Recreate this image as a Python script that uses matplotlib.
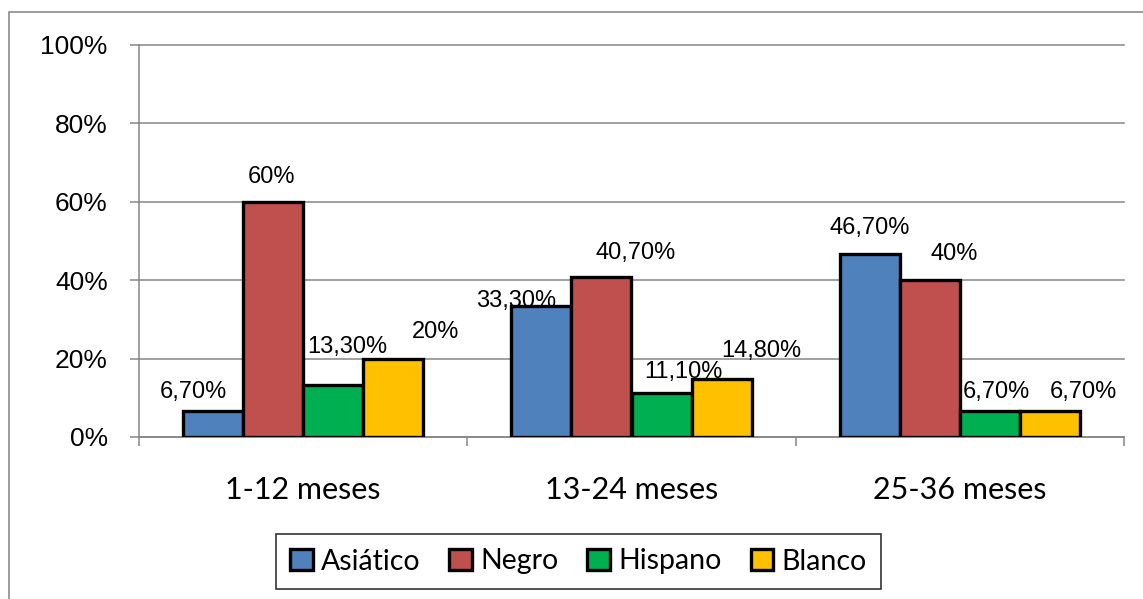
import numpy as np
import matplotlib.pyplot as plt
from matplotlib.patches import Rectangle

# --- data ---
categories = ["1-12 meses", "13-24 meses", "25-36 meses"]
series_names = ["Asiático", "Negro", "Hispano", "Blanco"]
asiatico = [6.7, 33.3, 46.7]
negro = [60.0, 40.7, 40.0]
hispano = [13.3, 11.1, 6.7]
blanco = [20.0, 14.8, 6.7]
yticks = [0, 20, 40, 60, 80, 100]

series = [asiatico, negro, hispano, blanco]
colors = ["#4F81BD", "#C0504D", "#00B050", "#FFC000"]

# label nudges (pixels) per category / series, as placed in the original
label_offsets = [
    [(-20, 19), (-2, 25), (14, 38), (42, 27)],
    [(-25, 5), (34, 24), (22, 21), (40, 28)],
    [(0, 26), (24, 26), (7, 19), (33, 19)],
]

def fmt(v):
    if float(v).is_integer():
        return f"{int(v)}%"
    return f"{v:.2f}%".replace(".", ",")

W, H = 1143, 599
fig = plt.figure(figsize=(W / 100, H / 100), dpi=100)
ax = fig.add_axes([139 / W, (H - 437) / H, (1124 - 139) / W, (437 - 45) / H])

grey = "#868686"
x = np.arange(len(categories))
bw = 60 / 328
for i, (vals, c) in enumerate(zip(series, colors)):
    pos = x + (i - 1.5) * bw
    ax.bar(pos, vals, width=bw, color=c, edgecolor="black", linewidth=2.4,
           zorder=3, label=series_names[i])
    for j, v in enumerate(vals):
        dx, dy = label_offsets[j][i]
        ax.annotate(fmt(v), (pos[j], v), xytext=(dx, dy), textcoords="offset pixels",
                    ha="center", va="center", fontsize=17,
                    family="Liberation Sans", color="black", zorder=2)

ax.set_xlim(-0.5, 2.5)
ax.set_ylim(0, 100)
ax.set_yticks(yticks)
ax.set_yticklabels([f"{t}%" for t in yticks], fontsize=19, family="Liberation Sans")
ax.set_xticks(x)
ax.set_xticklabels(categories, fontsize=22, family="Lato")
ax.set_xticks([-0.5, 0.5, 1.5, 2.5], minor=True)
ax.tick_params(axis="x", which="major", length=0, pad=28)
ax.tick_params(axis="x", which="minor", length=6.5, width=1.1, color=grey)
ax.tick_params(axis="y", length=6.5, width=1.1, color=grey, pad=16)

ax.yaxis.grid(True, color=grey, linewidth=1.1, zorder=0)
ax.set_axisbelow(True)
for gl in ax.get_ygridlines():
    gl.set_clip_on(False)
for s in ["top", "right"]:
    ax.spines[s].set_visible(False)
for s in ["left", "bottom"]:
    ax.spines[s].set_color(grey)
    ax.spines[s].set_linewidth(1.1)

leg = fig.legend(loc="center", bbox_to_anchor=(578.5 / W, (H - 561.5) / H),
                 ncol=4, frameon=True, fancybox=False, edgecolor="black",
                 handlelength=0.8, handleheight=0.8, handletextpad=0.3,
                 columnspacing=1.0, borderpad=0.5,
                 prop={"family": "Lato", "size": 20.5})
leg.get_frame().set_linewidth(1.2)

# outer chart border (right and bottom fall off the canvas)
fig.patches.append(Rectangle((9 / W, -0.1), 1.2, 1.1 - 12 / H,
                             transform=fig.transFigure, fill=False,
                             edgecolor="#8c8c8c", linewidth=1.2))

fig.savefig("out.png", dpi=100)
